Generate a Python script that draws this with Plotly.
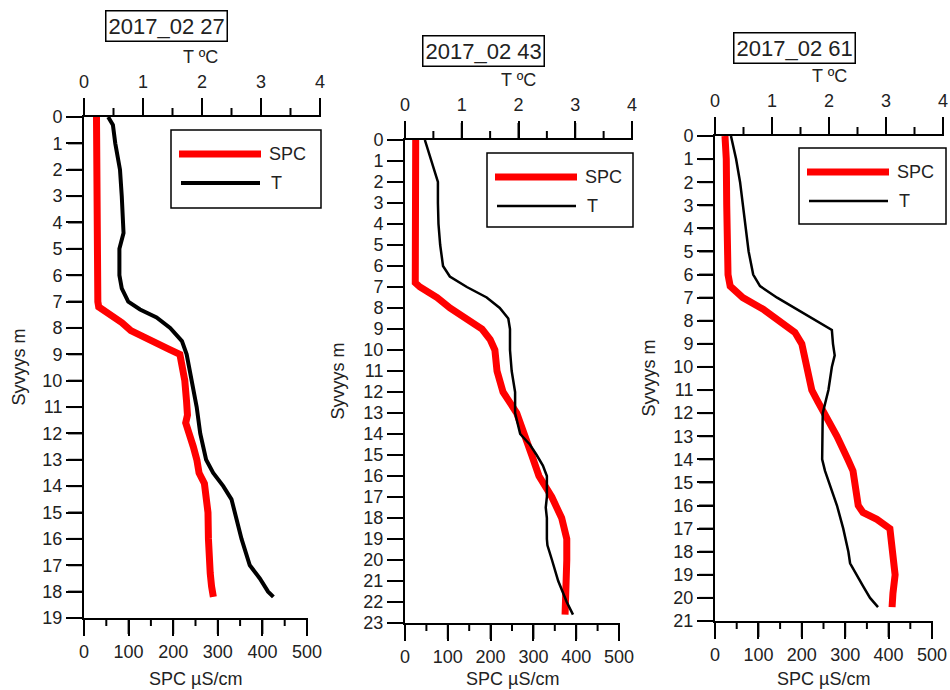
import plotly.graph_objects as go

# ---------------- data ----------------
titles = ["2017_02 27", "2017_02 43", "2017_02 61"]
depth_max = [19, 23, 21]
spc_ticks = [0, 100, 200, 300, 400, 500]
spc_minor = [50, 150, 250, 350, 450]
t_ticks = [0, 1, 2, 3, 4]
t_minor = [0.5, 1.5, 2.5, 3.5]

depth1_spc = [0, 1, 2, 3, 4, 5, 5.2, 6, 7, 7.2, 7.5, 7.8, 8.1, 8.5, 8.8, 9.0, 9.5, 10, 10.8, 11.3, 11.6, 12, 12.5, 13, 13.5, 13.9, 14.6, 15, 16, 17, 17.3, 17.8, 18.2]
spc1 = [28, 28, 28, 28, 28, 28, 31, 31, 31, 33, 60, 85, 105, 150, 190, 215, 222, 226, 230, 232, 228, 237, 245, 253, 258, 270, 275, 278, 279, 280, 283, 286, 290]
depth1_t = [0, 0.3, 1, 2, 3, 4, 4.4, 5, 6, 6.5, 7, 7.3, 7.6, 8, 8.5, 9, 10, 11, 12, 12.5, 13, 13.5, 14, 14.5, 15, 16, 17, 17.5, 18, 18.2]
t1 = [0.41, 0.49, 0.53, 0.61, 0.64, 0.67, 0.67, 0.6, 0.6, 0.64, 0.75, 0.95, 1.23, 1.46, 1.66, 1.74, 1.83, 1.91, 1.97, 2.02, 2.07, 2.19, 2.36, 2.5, 2.56, 2.67, 2.81, 2.98, 3.12, 3.21]

depth2_spc = [0, 2, 4, 6, 6.8, 7.0, 7.5, 8, 8.5, 9, 9.5, 10, 11, 12, 13, 14, 15, 16, 17, 18, 19, 20, 21, 22, 22.6]
spc2 = [25, 25, 25, 24, 24, 35, 75, 105, 145, 180, 199, 210, 215, 229, 261, 280, 296, 313, 343, 366, 378, 378, 378, 377, 374]
depth2_t = [0, 1, 2, 3, 4, 5, 5.5, 6, 6.5, 7, 7.5, 8, 8.5, 9, 10, 11, 12, 13, 14, 14.5, 15, 15.5, 16, 17, 17.5, 18, 19, 19.3, 20, 21, 22, 22.6]
t2 = [0.35, 0.47, 0.58, 0.58, 0.59, 0.62, 0.65, 0.67, 0.79, 1.09, 1.44, 1.67, 1.82, 1.85, 1.85, 1.88, 1.94, 1.94, 2.03, 2.2, 2.32, 2.43, 2.5, 2.5, 2.48, 2.5, 2.5, 2.51, 2.59, 2.7, 2.85, 2.96]

depth3_spc = [0, 1, 3, 5, 6, 6.5, 7, 7.5, 8, 8.5, 9, 10, 11, 11.5, 12, 13, 14, 14.5, 15, 16, 16.3, 16.6, 17, 18, 19, 19.8, 20.4]
spc3 = [23, 26, 27, 28, 30, 35, 64, 111, 150, 184, 200, 212, 223, 237, 253, 281, 306, 318, 322, 330, 341, 373, 403, 410, 415, 410, 408]
depth3_t = [0, 1, 2, 3, 4, 5, 6, 6.5, 7, 7.5, 8, 8.4, 9, 9.5, 10, 11, 12, 13, 14, 14.5, 15, 16, 17, 18, 18.5, 19, 19.5, 20, 20.4]
t3 = [0.28, 0.37, 0.44, 0.49, 0.54, 0.59, 0.67, 0.79, 1.09, 1.44, 1.79, 2.05, 2.07, 2.1, 2.05, 1.99, 1.89, 1.88, 1.88, 1.93, 2.0, 2.14, 2.25, 2.34, 2.37, 2.48, 2.6, 2.72, 2.86]

spc_series = [(depth1_spc, spc1), (depth2_spc, spc2), (depth3_spc, spc3)]
t_series = [(depth1_t, t1), (depth2_t, t2), (depth3_t, t3)]

# ---------------- layout (pixel geometry) ----------------
W, H = 950, 690
FONT = "Liberation Sans, Arial, sans-serif"
TXT = "#222222"
FS = 18
SPC_RANGE = [0, 500]
T_RANGE = [0, 4]
geo = [
    dict(x0=84, xb=307, xt=320, y0=117, y1=618, title=(166, 26), tlab=200, ylab=18,
         leg=(171, 130, 321, 208)),
    dict(x0=405, xb=619, xt=632, y0=140, y1=623, title=(483, 51), tlab=518, ylab=337,
         leg=(487, 153, 633, 227)),
    dict(x0=715, xb=932, xt=943, y0=136, y1=621, title=(794, 48), tlab=829, ylab=648,
         leg=(799, 148, 946, 224)),
]
black_w = [4, 2.5, 2.5]
MAJ_B, MIN_B, MAJ_T, MIN_T, MAJ_Y = 16, 8, 17, 9, 16

def px(x):
    return x / W

def py(y):
    return 1 - y / H

fig = go.Figure()
layout = dict(template="none", width=W, height=H, margin=dict(l=0, r=0, t=0, b=0, pad=0),
              paper_bgcolor="white", plot_bgcolor="rgba(255,255,255,0)",
              showlegend=False, font=dict(family=FONT, size=FS, color=TXT))
annotations = []
shapes = []

def tick_line(xref, yref, x0, x1, y0, y1):
    return dict(type="line", xref=xref, yref=yref, x0=x0, x1=x1, y0=y0, y1=y1,
                line=dict(color="black", width=2), layer="above")

for i, g in enumerate(geo):
    xt = "x%d" % (2 * i + 2)
    xb_key = "xaxis" if i == 0 else "xaxis%d" % (2 * i + 1)
    xt_key = "xaxis%d" % (2 * i + 2)
    y_key = "yaxis" if i == 0 else "yaxis%d" % (i + 1)
    xb_ref = "x" if i == 0 else "x%d" % (2 * i + 1)
    y_ref = "y" if i == 0 else "y%d" % (i + 1)

    d, v = spc_series[i]
    fig.add_trace(go.Scatter(x=v, y=d, mode="lines", name="SPC",
                             line=dict(color="#ff0000", width=7),
                             xaxis=xb_ref, yaxis=y_ref))
    d, v = t_series[i]
    fig.add_trace(go.Scatter(x=v, y=d, mode="lines", name="T",
                             line=dict(color="#000000", width=black_w[i]),
                             xaxis=xt, yaxis=y_ref))

    common = dict(showgrid=False, zeroline=False, showline=True, linecolor="black",
                  linewidth=2, ticks="outside", tickcolor="#000000", tickwidth=2,
                  automargin=False, tickfont=dict(family=FONT, size=FS, color=TXT))
    layout[xb_key] = dict(common, domain=[px(g["x0"]), px(g["xb"])], range=SPC_RANGE,
                          tickmode="array", tickvals=spc_ticks, ticklen=MAJ_B,
                          anchor=y_ref, side="bottom")
    layout[xt_key] = dict(common, domain=[px(g["x0"]), px(g["xt"])], range=T_RANGE,
                          tickmode="array", tickvals=t_ticks, ticklen=MAJ_T,
                          anchor=y_ref, side="top", ticklabelstandoff=3)
    layout[y_key] = dict(common, domain=[py(g["y1"]), py(g["y0"])],
                         range=[depth_max[i], 0], tickmode="linear", dtick=1, tick0=0,
                         ticklen=MAJ_Y, anchor=xb_ref)

    # tick marks, positioned by fraction of each axis' domain (unclipped)
    xbd = xb_ref + " domain"
    xtd = xt + " domain"
    yd = y_ref + " domain"
    for val in spc_ticks:
        f = (val - SPC_RANGE[0]) / (SPC_RANGE[1] - SPC_RANGE[0])
        shapes.append(tick_line(xbd, "paper", f, f, py(g["y1"]), py(g["y1"] + MAJ_B)))
    for val in spc_minor:
        f = (val - SPC_RANGE[0]) / (SPC_RANGE[1] - SPC_RANGE[0])
        shapes.append(tick_line(xbd, "paper", f, f, py(g["y1"]), py(g["y1"] + MIN_B)))
    for val in t_ticks:
        f = (val - T_RANGE[0]) / (T_RANGE[1] - T_RANGE[0])
        shapes.append(tick_line(xtd, "paper", f, f, py(g["y0"]), py(g["y0"] - MAJ_T)))
    for val in t_minor:
        f = (val - T_RANGE[0]) / (T_RANGE[1] - T_RANGE[0])
        shapes.append(tick_line(xtd, "paper", f, f, py(g["y0"]), py(g["y0"] - MIN_T)))
    for dep in range(depth_max[i] + 1):
        f = 1 - dep / depth_max[i]
        shapes.append(tick_line("paper", yd, px(g["x0"] - MAJ_Y), px(g["x0"]), f, f))

    # panel title (boxed)
    tx, ty = g["title"]
    annotations.append(dict(text=titles[i], x=px(tx), y=py(ty), xref="paper", yref="paper",
                            showarrow=False, font=dict(size=22, color=TXT, family=FONT),
                            bordercolor="black", borderwidth=1.5, borderpad=2,
                            bgcolor="white", xanchor="center", yanchor="middle"))
    # axis titles
    tlab_y = g["y0"] - 60
    annotations.append(dict(text="T ºC", x=px(g["tlab"]), y=py(tlab_y), xref="paper",
                            yref="paper", showarrow=False, xanchor="center", yanchor="middle",
                            font=dict(size=FS, color=TXT, family=FONT)))
    annotations.append(dict(text="SPC µS/cm", x=px((g["x0"] + g["xb"]) / 2), y=py(679),
                            xref="paper", yref="paper", showarrow=False,
                            xanchor="center", yanchor="middle",
                            font=dict(size=FS, color=TXT, family=FONT)))
    annotations.append(dict(text="Syvyys m", x=px(g["ylab"]), y=py((g["y0"] + g["y1"]) / 2),
                            xref="paper", yref="paper", showarrow=False, textangle=-90,
                            xanchor="center", yanchor="middle",
                            font=dict(size=FS, color=TXT, family=FONT)))

    # legend (box, samples, labels)
    lx0, ly0, lx1, ly1 = g["leg"]
    shapes.append(dict(type="rect", xref="paper", yref="paper", x0=px(lx0), x1=px(lx1),
                       y0=py(ly1), y1=py(ly0), line=dict(color="black", width=1.5),
                       fillcolor="white", layer="above"))
    r_y = ly0 + 24
    k_y = ly0 + 53
    shapes.append(dict(type="line", xref="paper", yref="paper", x0=px(lx0 + 8), x1=px(lx0 + 90),
                       y0=py(r_y), y1=py(r_y), line=dict(color="#ff0000", width=7),
                       layer="above"))
    shapes.append(dict(type="line", xref="paper", yref="paper", x0=px(lx0 + 10), x1=px(lx0 + 89),
                       y0=py(k_y), y1=py(k_y), line=dict(color="black", width=black_w[i]),
                       layer="above"))
    annotations.append(dict(text="SPC", x=px(lx0 + 96), y=py(r_y), xref="paper", yref="paper",
                            showarrow=False, xanchor="left", yanchor="middle",
                            font=dict(size=FS, color=TXT, family=FONT)))
    annotations.append(dict(text="T", x=px(lx0 + 98), y=py(k_y), xref="paper", yref="paper",
                            showarrow=False, xanchor="left", yanchor="middle",
                            font=dict(size=FS, color=TXT, family=FONT)))

layout["annotations"] = annotations
layout["shapes"] = shapes
fig.update_layout(**layout)
fig.write_html("out.html")
